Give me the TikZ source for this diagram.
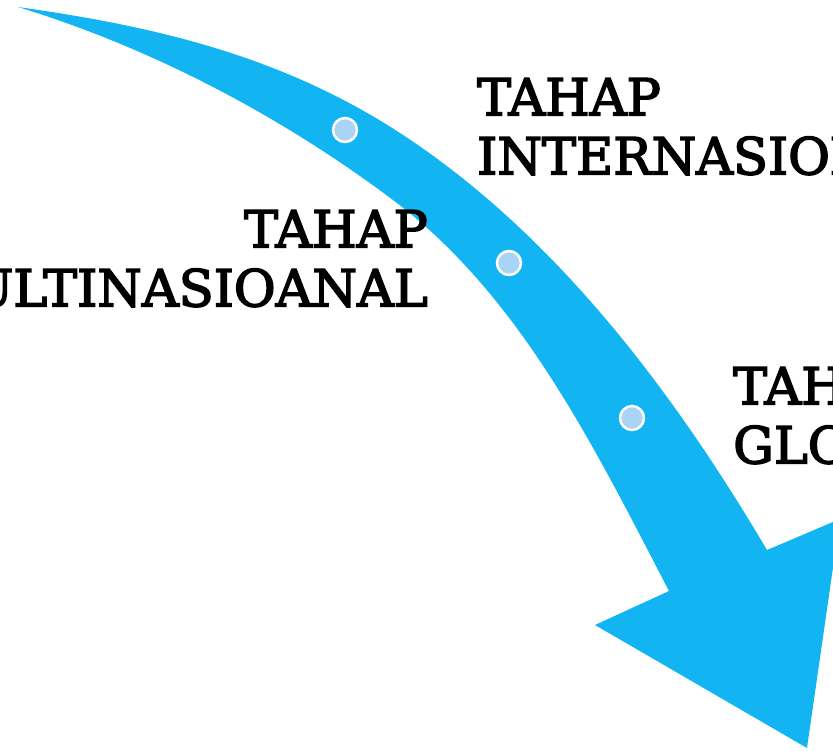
\documentclass[tikz,border=0pt]{standalone}
\usepackage{fontspec}
\newfontfamily\stagefont{DejaVu Serif}[FakeBold=3]
\definecolor{arrowblue}{RGB}{18,181,242}
\definecolor{dotblue}{RGB}{170,212,246}
\begin{document}
\begin{tikzpicture}[x=1pt,y=-1pt,
  stagetext/.style={font=\stagefont\fontsize{51}{59}\selectfont, inner sep=0pt, text=black},
  stagedot/.style={circle, fill=dotblue, draw=white, line width=2.5pt, minimum size=24pt, inner sep=0pt}]
\useasboundingbox (0,0) rectangle (833,750);
\clip (0,0) rectangle (833,750);
\fill[arrowblue] (18,7) .. controls (153,26) and (280,55) .. (400,133)
  .. controls (555,234) and (673,391) .. (767,550)
  -- (840,519) -- (807,748) -- (595,625) -- (669,591)
  .. controls (595,449) and (521,296) .. (393,200)
  .. controls (281,116) and (152,48) .. (18,7) -- cycle;
\node[stagedot] (d1) at (345,130) {};
\node[stagedot] (d2) at (509,263) {};
\node[stagedot] (d3) at (632,418) {};
\node[stagetext, anchor=north west, align=left] (intl) at (477,78) {TAHAP\\INTERNASIONAL};
\node[stagetext, anchor=north east, align=right] (multi) at (428,210) {TAHAP\\MULTINASIOANAL};
\node[stagetext, anchor=north west, align=left] (glob) at (733,367) {TAHAP\\GLOBAL};
\end{tikzpicture}
\end{document}
